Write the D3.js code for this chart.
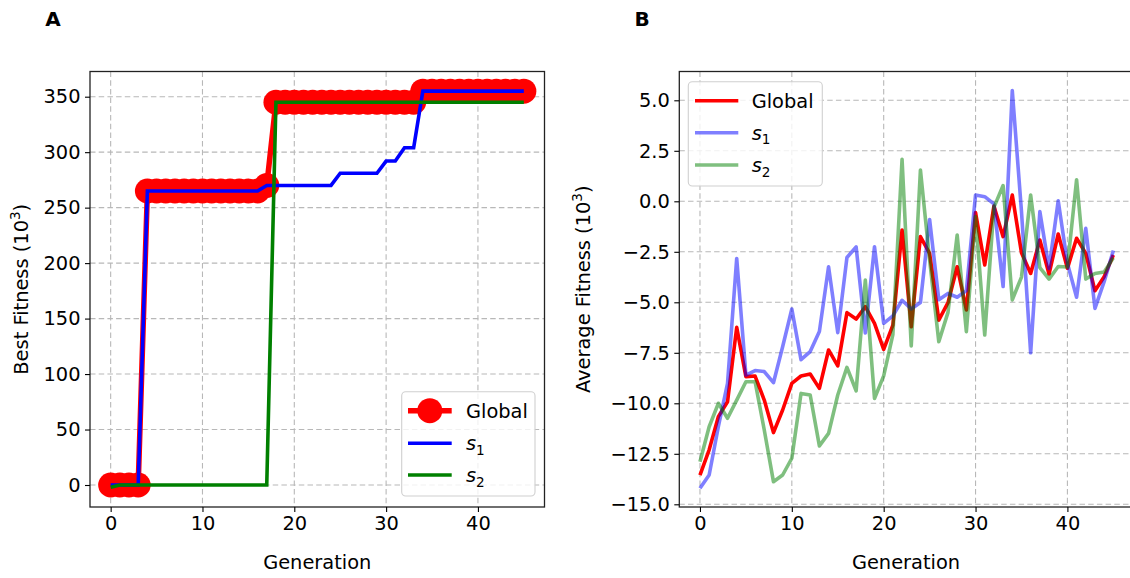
<!DOCTYPE html>
<html>
<head>
<meta charset="utf-8">
<script src="https://cdn.jsdelivr.net/npm/d3@7"></script>
<style>
  body { margin: 0; background: #fff; }
  svg { display: block; }
  text { font-family: "DejaVu Sans", sans-serif; fill: #000; }
</style>
</head>
<body>
<svg id="fig" width="1130" height="578"></svg>
<script>
// ---- Data (fitness in units of 10^3) ----
const bestGlobal = [0, 0, 0, 0, 265, 265, 265, 265, 265, 265, 265, 265, 265, 265, 265, 265, 265,
  270, 345, 345, 345, 345, 345, 345, 345, 345, 345, 345, 345, 345, 345, 345, 345, 345,
  355, 355, 355, 355, 355, 355, 355, 355, 355, 355, 355, 355];
const bestS1 = [0, 0, 0, 0, 265, 265, 265, 265, 265, 265, 265, 265, 265, 265, 265, 265, 265,
  270, 270, 270, 270, 270, 270, 270, 270, 281, 281, 281, 281, 281, 292, 292, 304, 304,
  355, 355, 355, 355, 355, 355, 355, 355, 355, 355, 355, 355];
const bestS2 = [-2, 0, 0, 0, 0, 0, 0, 0, 0, 0, 0, 0, 0, 0, 0, 0, 0, 0,
  345, 345, 345, 345, 345, 345, 345, 345, 345, 345, 345, 345, 345, 345, 345, 345,
  345, 345, 345, 345, 345, 345, 345, 345, 345, 345, 345, 345];

const avgGlobal = [-13.55, -12.3, -10.66, -9.92, -6.24, -8.68, -8.65, -9.84, -11.45, -10.33,
  -9.01, -8.65, -8.55, -9.26, -7.36, -8.15, -5.51, -5.83, -5.22, -6.04,
  -7.33, -6.13, -1.42, -6.21, -1.75, -2.58, -5.88, -5.02, -3.24, -5.38,
  -0.56, -3.15, -0.23, -1.75, 0.31, -2.55, -3.57, -1.92, -3.6, -1.62,
  -3.32, -1.83, -2.58, -4.43, -3.73, -2.66];
const avgS1 = [-14.21, -13.55, -11.16, -9.01, -2.83, -8.6, -8.38, -8.43, -8.98, -7.2,
  -5.33, -7.84, -7.44, -6.45, -3.24, -6.5, -2.78, -2.26, -6.52, -2.25,
  -6.04, -5.67, -4.9, -5.33, -5.01, -0.9, -4.87, -4.56, -4.75, -4.42,
  0.31, 0.23, -0.13, -4.22, 5.48, -0.5, -7.5, -0.51, -3.32, 0.03,
  -3.07, -4.75, -1.34, -5.3, -3.98, -2.44];
const avgS2 = [-12.89, -11.16, -10.0, -10.74, -9.84, -8.93, -8.93, -11.32, -13.88, -13.55,
  -12.72, -9.51, -9.59, -12.11, -11.49, -9.59, -8.22, -9.38, -3.9, -9.76,
  -8.64, -6.6, 2.08, -7.16, 1.55, -2.9, -6.95, -5.5, -1.67, -6.45,
  -0.76, -6.62, -0.3, 0.78, -4.88, -3.75, 0.31, -3.28, -3.85, -3.23,
  -3.25, 1.07, -3.85, -3.57, -3.5, -2.8];

const xTicks = [0, 10, 20, 30, 40];
const yTicksA = [0, 50, 100, 150, 200, 250, 300, 350];
const yTicksB = [-15, -12.5, -10, -7.5, -5, -2.5, 0, 2.5, 5];

// ---- Layout ----
const FS = 19.4;
const svg = d3.select("#fig");

const boxA = { left: 90, right: 544.5, top: 71.5, bottom: 507 };
const boxB = { left: 679.3, right: 1134, top: 71.5, bottom: 507 };

const xA = d3.scaleLinear().domain([-2.25, 47.25]).range([boxA.left, boxA.right]);
const yA = d3.scaleLinear().domain([0, 350]).range([485, 96.7]);
const xB = d3.scaleLinear().domain([-2.25, 47.25]).range([boxB.left, boxB.right]);
const yB = d3.scaleLinear().domain([0, 5]).range([201.3, 100.3]);

const fmtB = v => d3.format(".1f")(v).replace("-", "\u2212");

function drawFrame(g, box, x, y, yTicks, yFmt) {
  // dashed grid
  g.append("g").selectAll("line").data(xTicks).join("line")
    .attr("x1", d => x(d)).attr("x2", d => x(d))
    .attr("y1", box.top).attr("y2", box.bottom)
    .attr("stroke", "#b8b8b8").attr("stroke-width", 1.1).attr("stroke-dasharray", "5.5,3.2");
  g.append("g").selectAll("line").data(yTicks).join("line")
    .attr("x1", box.left).attr("x2", box.right)
    .attr("y1", d => y(d)).attr("y2", d => y(d))
    .attr("stroke", "#b8b8b8").attr("stroke-width", 1.1).attr("stroke-dasharray", "5.5,3.2");
}

function drawAxes(g, box, x, y, yTicks, yFmt) {
  // spines
  g.append("rect")
    .attr("x", box.left).attr("y", box.top)
    .attr("width", box.right - box.left).attr("height", box.bottom - box.top)
    .attr("fill", "none").attr("stroke", "#222").attr("stroke-width", 1.3);

  const xAxis = d3.axisBottom(x).tickValues(xTicks).tickSize(5).tickPadding(4.5)
    .tickFormat(d3.format("d"));
  const gx = g.append("g").attr("transform", `translate(0,${box.bottom})`).call(xAxis);
  gx.select(".domain").remove();
  gx.selectAll(".tick line").attr("stroke", "#000").attr("stroke-width", 1.1);
  gx.selectAll(".tick text").attr("font-size", FS).attr("font-family", "DejaVu Sans").attr("fill", "#000");

  const yAxis = d3.axisLeft(y).tickValues(yTicks).tickSize(5).tickPadding(4.5).tickFormat(yFmt);
  const gy = g.append("g").attr("transform", `translate(${box.left},0)`).call(yAxis);
  gy.select(".domain").remove();
  gy.selectAll(".tick line").attr("stroke", "#000").attr("stroke-width", 1.1);
  gy.selectAll(".tick text").attr("font-size", FS).attr("font-family", "DejaVu Sans").attr("fill", "#000");
}

function subLabel(textSel, base, sub) {
  textSel.append("tspan").attr("font-style", "italic").text(base);
  textSel.append("tspan").attr("font-size", FS * 0.7).attr("dy", 4.5).text(sub);
}

function yLabel(g, cx, cy, main) {
  const t = g.append("text")
    .attr("transform", `translate(${cx},${cy}) rotate(-90)`)
    .attr("text-anchor", "middle").attr("font-size", FS);
  t.append("tspan").text(main + " (10");
  t.append("tspan").attr("font-size", FS * 0.7).attr("dy", -8).text("3");
  t.append("tspan").attr("dy", 8).text(")");
}

// ---- Panel A: best fitness ----
const gA = svg.append("g");
drawFrame(gA, boxA, xA, yA, yTicksA);

const lineA = d3.line().x((d, i) => xA(i)).y(d => yA(d));
gA.append("path").datum(bestGlobal).attr("d", lineA)
  .attr("fill", "none").attr("stroke", "#ff0000").attr("stroke-width", 5.5).attr("stroke-linejoin", "round");
gA.append("g").selectAll("circle").data(bestGlobal).join("circle")
  .attr("cx", (d, i) => xA(i)).attr("cy", d => yA(d)).attr("r", 12.5).attr("fill", "#ff0000");
gA.append("path").datum(bestS1).attr("d", lineA)
  .attr("fill", "none").attr("stroke", "#0000ff").attr("stroke-width", 3.6);
gA.append("path").datum(bestS2).attr("d", lineA)
  .attr("fill", "none").attr("stroke", "#008000").attr("stroke-width", 3.6);

drawAxes(gA, boxA, xA, yA, yTicksA, d3.format("d"));

// legend A
const legA = gA.append("g");
legA.append("rect").attr("x", 401.7).attr("y", 391.7).attr("width", 133.3).attr("height", 104.3)
  .attr("rx", 4).attr("fill", "#fff").attr("fill-opacity", 0.8).attr("stroke", "#d0d0d0").attr("stroke-width", 1.1);
const legAItems = [
  { key: "Global", color: "#ff0000", w: 5.5, marker: true },
  { key: "s", sub: "1", color: "#0000ff", w: 3.6 },
  { key: "s", sub: "2", color: "#008000", w: 3.6 }
];
const legAY = [410.7, 443.3, 475];
legAItems.forEach((it, i) => {
  const y = legAY[i];
  legA.append("line").attr("x1", 408).attr("x2", 451.7).attr("y1", y).attr("y2", y)
    .attr("stroke", it.color).attr("stroke-width", it.w);
  if (it.marker) legA.append("circle").attr("cx", 429.8).attr("cy", y).attr("r", 12.5).attr("fill", it.color);
  const t = legA.append("text").attr("x", 466).attr("y", y + 7).attr("font-size", FS);
  if (it.sub) subLabel(t, it.key, it.sub); else t.text(it.key);
});

gA.append("text").attr("x", (boxA.left + boxA.right) / 2).attr("y", 569)
  .attr("text-anchor", "middle").attr("font-size", FS).text("Generation");
yLabel(gA, 28, (boxA.top + boxA.bottom) / 2, "Best Fitness");
gA.append("text").attr("x", 53).attr("y", 26).attr("text-anchor", "middle")
  .attr("font-size", 20).attr("font-weight", "bold").text("A");

// ---- Panel B: average fitness ----
const gB = svg.append("g");
drawFrame(gB, boxB, xB, yB, yTicksB);

const lineB = d3.line().x((d, i) => xB(i)).y(d => yB(d));
gB.append("path").datum(avgGlobal).attr("d", lineB)
  .attr("fill", "none").attr("stroke", "#ff0000").attr("stroke-width", 3.6).attr("stroke-linejoin", "round");
gB.append("path").datum(avgS1).attr("d", lineB)
  .attr("fill", "none").attr("stroke", "#0000ff").attr("stroke-opacity", 0.5).attr("stroke-width", 3.6).attr("stroke-linejoin", "round");
gB.append("path").datum(avgS2).attr("d", lineB)
  .attr("fill", "none").attr("stroke", "#008000").attr("stroke-opacity", 0.5).attr("stroke-width", 3.6).attr("stroke-linejoin", "round");

drawAxes(gB, boxB, xB, yB, yTicksB, fmtB);

// legend B
const legB = gB.append("g");
legB.append("rect").attr("x", 688.3).attr("y", 81.7).attr("width", 134).attr("height", 104.3)
  .attr("rx", 4).attr("fill", "#fff").attr("fill-opacity", 0.8).attr("stroke", "#d0d0d0").attr("stroke-width", 1.1);
const legBItems = [
  { key: "Global", color: "#ff0000", op: 1 },
  { key: "s", sub: "1", color: "#0000ff", op: 0.5 },
  { key: "s", sub: "2", color: "#008000", op: 0.5 }
];
const legBY = [100.7, 132.7, 165];
legBItems.forEach((it, i) => {
  const y = legBY[i];
  legB.append("line").attr("x1", 695).attr("x2", 738.3).attr("y1", y).attr("y2", y)
    .attr("stroke", it.color).attr("stroke-opacity", it.op).attr("stroke-width", 3.6);
  const t = legB.append("text").attr("x", 751.7).attr("y", y + 7).attr("font-size", FS);
  if (it.sub) subLabel(t, it.key, it.sub); else t.text(it.key);
});

gB.append("text").attr("x", 906).attr("y", 569)
  .attr("text-anchor", "middle").attr("font-size", FS).text("Generation");
yLabel(gB, 590, (boxB.top + boxB.bottom) / 2, "Average Fitness");
gB.append("text").attr("x", 642).attr("y", 26).attr("text-anchor", "middle")
  .attr("font-size", 20).attr("font-weight", "bold").text("B");
</script>
</body>
</html>
